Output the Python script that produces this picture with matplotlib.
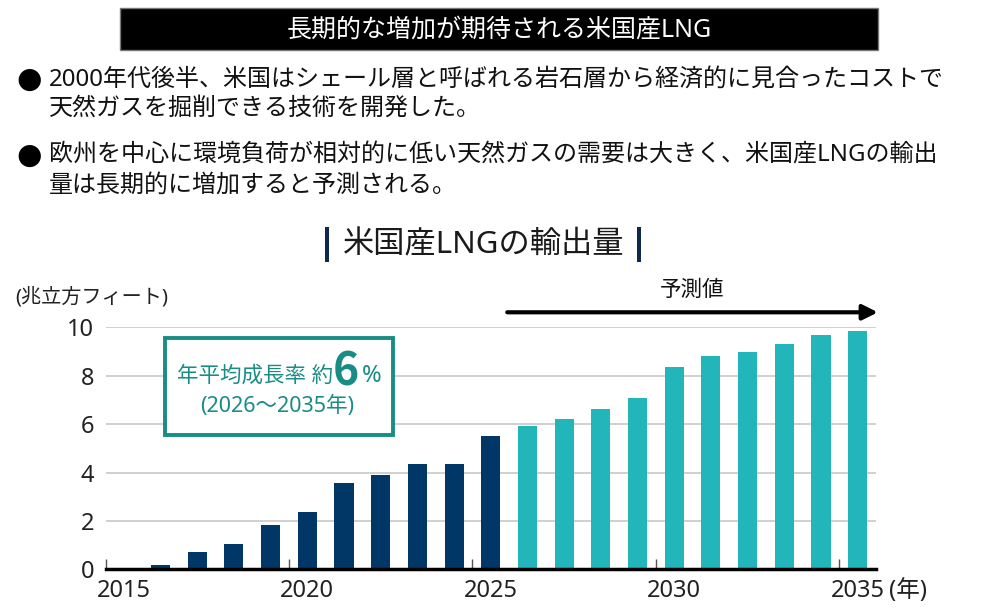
import matplotlib
matplotlib.use("Agg")
import matplotlib.pyplot as plt
from matplotlib.patches import Rectangle

plt.rcParams['font.family'] = ['Noto Sans', 'Noto Sans CJK JP', 'DejaVu Sans']

# data
years = list(range(2015, 2036))
exports = [0.0, 0.18, 0.70, 1.06, 1.82, 2.37, 3.55, 3.88, 4.34, 4.37, 5.52,
           5.94, 6.21, 6.64, 7.07, 8.37, 8.80, 8.97, 9.30, 9.68, 9.85]
first_forecast = 2026
tick_years = [2015, 2020, 2025, 2030, 2035]

title_text = "長期的な増加が期待される米国産LNG"
bullets = [
    ["2000年代後半、米国はシェール層と呼ばれる岩石層から経済的に見合ったコストで",
     "天然ガスを掘削できる技術を開発した。"],
    ["欧州を中心に環境負荷が相対的に低い天然ガスの需要は大きく、米国産LNGの輸出",
     "量は長期的に増加すると予測される。"],
]
chart_title = "米国産LNGの輸出量"
unit_label = "(兆立方フィート)"

NAVY = "#003767"
TEAL = "#22b5b9"
BOX_TEAL = "#1a8c86"

W, H = 988, 616
fig = plt.figure(figsize=(W / 100, H / 100), dpi=100)

def fx(px):
    return px / W

def fy(py):
    return 1 - py / H

# header box
fig.patches.append(Rectangle((fx(120), fy(50)), fx(878) - fx(120), fy(8) - fy(50),
                             transform=fig.transFigure, facecolor="black",
                             edgecolor="#777777", linewidth=1))
fig.text(fx(499), fy(30), title_text, color="white", fontsize=18,
         ha="center", va="center")

# bullet text
line_y = [[80, 109], [156, 186]]
for lines, ys in zip(bullets, line_y):
    fig.text(fx(29), fy(ys[0]), "●", fontsize=21, ha="center", va="center",
             family=['DejaVu Sans'])
    for ln, yy in zip(lines, ys):
        fig.text(fx(49), fy(yy), ln, fontsize=17.3, ha="left", va="center",
                 color="#111111")

# chart title with side bars
fig.text(fx(484), fy(245), chart_title, fontsize=22.5, ha="center", va="center",
         color="#1a1a1a")
for bx in [327, 639]:
    fig.patches.append(Rectangle((fx(bx - 2), fy(262)), fx(4), fy(227) - fy(262),
                                 transform=fig.transFigure, facecolor="#0d2a4e",
                                 edgecolor="none"))

# axes
ax = fig.add_axes([fx(105.5), fy(569.3), fx(876) - fx(105.5), fy(327.3) - fy(569.3)])
x = list(range(len(years)))
colors = [TEAL if yr >= first_forecast else NAVY for yr in years]
ax.bar(x, exports, width=0.52, color=colors, zorder=3)

ax.set_xlim(-0.5, len(years) - 0.5)
ax.set_ylim(0, 10)
ax.set_yticks([0, 2, 4, 6, 8, 10])
ax.yaxis.grid(True, color="#c8c8c8", linewidth=1.2, zorder=0)
ax.tick_params(axis="y", length=0, labelsize=17, pad=8, colors="#222222")
for s in ["top", "right", "left"]:
    ax.spines[s].set_visible(False)
ax.spines["bottom"].set_linewidth(2.5)
ax.spines["bottom"].set_color("black")
ax.spines["bottom"].set_zorder(4)

# category boundary ticks and year labels
ax.set_xticks([years.index(y) - 0.5 for y in tick_years])
ax.set_xticklabels([])
ax.tick_params(axis="x", direction="in", length=7, width=1, colors="#555555")
for y in tick_years:
    ax.text(years.index(y), -0.42, str(y), fontsize=17, ha="center", va="top",
            color="#222222", clip_on=False)
ax.text(years.index(2035) + 0.86, -0.42, "(年)", fontsize=17, ha="left",
        va="top", color="#222222", clip_on=False)

# unit label
fig.text(fx(15), fy(297), unit_label, fontsize=14.5, ha="left", va="center",
         color="#222222")

# forecast arrow
ax.annotate("", xy=(20.55, 10.62), xytext=(10.45, 10.62),
            xycoords="data", annotation_clip=False,
            arrowprops=dict(arrowstyle="-|>,head_length=0.9,head_width=0.45",
                            color="black", lw=3, shrinkA=0, shrinkB=0))
ax.text(15.5, 11.1, "予測値", fontsize=15.5, ha="center", va="bottom",
        color="#111111", clip_on=False)

# growth rate box
fig.patches.append(Rectangle((fx(165), fy(435)), fx(393) - fx(165), fy(338) - fy(435),
                             transform=fig.transFigure, facecolor="white",
                             edgecolor=BOX_TEAL, linewidth=2.8, zorder=5))
t1 = fig.text(fx(177), fy(376), "年平均成長率 約", fontsize=15.5, ha="left",
              va="center", color=BOX_TEAL, zorder=6)
fig.canvas.draw()
bb = t1.get_window_extent()
t2 = fig.text(bb.x1 / W, fy(372), "6", fontsize=32, fontweight="bold",
              family=['Noto Sans CJK JP'],
              ha="left", va="center", color=BOX_TEAL, zorder=6)
bb2 = t2.get_window_extent()
fig.text(bb2.x1 / W + 0.003, fy(376), "%", fontsize=17, ha="left",
         va="center", color=BOX_TEAL, zorder=6)
fig.text(fx(277), fy(406), "(2026〜2035年)", fontsize=15.5, ha="center",
         va="center", color=BOX_TEAL, zorder=6)

fig.savefig("out.png", dpi=100)
